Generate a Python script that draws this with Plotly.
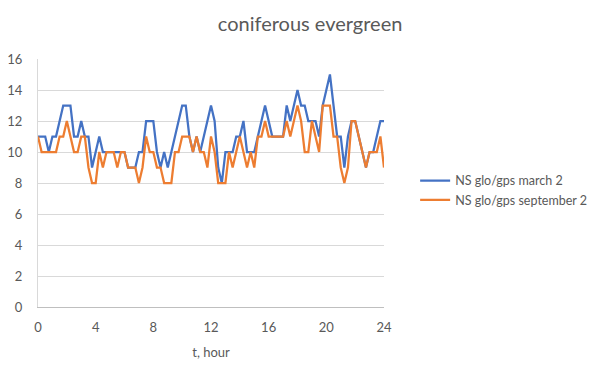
import plotly.graph_objects as go

hours = [i * 0.25 for i in range(97)]

march_2 = [
    11, 11, 11, 10, 11, 11, 12, 13, 13, 13, 11, 11, 12, 11, 11, 9,
    10, 11, 10, 10, 10, 10, 10, 10, 10, 9, 9, 9, 10, 10, 12, 12,
    12, 10, 9, 10, 9, 10, 11, 12, 13, 13, 11, 10, 11, 10, 11, 12,
    13, 12, 9, 8, 10, 10, 10, 11, 11, 12, 10, 10, 10, 11, 12, 13,
    12, 11, 11, 11, 11, 13, 12, 13, 14, 13, 13, 12, 12, 12, 11, 13,
    14, 15, 13, 11, 11, 9, 11, 12, 12, 11, 10, 9, 10, 10, 11, 12,
    12,
]

september_2 = [
    11, 10, 10, 10, 10, 10, 11, 11, 12, 11, 10, 10, 11, 11, 9, 8,
    8, 10, 9, 10, 10, 10, 9, 10, 10, 9, 9, 9, 8, 9, 11, 10,
    10, 9, 9, 8, 8, 8, 10, 10, 11, 11, 11, 10, 11, 10, 10, 9,
    11, 10, 8, 8, 8, 10, 9, 10, 11, 10, 9, 10, 9, 11, 11, 12,
    11, 11, 11, 11, 11, 12, 11, 12, 13, 12, 10, 10, 12, 11, 10, 13,
    13, 13, 11, 11, 9, 8, 9, 12, 12, 11, 10, 9, 10, 10, 10, 11,
    9,
]

x_ticks = [0, 4, 8, 12, 16, 20, 24]
y_ticks = [0, 2, 4, 6, 8, 10, 12, 14, 16]

fig = go.Figure()
fig.add_trace(go.Scatter(x=hours, y=march_2, mode="lines",
                         name="NS glo/gps march 2",
                         line=dict(color="#4472C4", width=2.25)))
fig.add_trace(go.Scatter(x=hours, y=september_2, mode="lines",
                         name="NS glo/gps september 2",
                         line=dict(color="#ED7D31", width=2.25)))

fig.update_layout(
    width=608, height=365,
    margin=dict(l=38, r=224, t=59, b=58),
    paper_bgcolor="white", plot_bgcolor="white",
    font=dict(family="Lato, Open Sans, sans-serif", color="#595959", size=13),
    title=dict(text="coniferous evergreen", x=0.51, xanchor="center",
               y=0.935, yanchor="middle",
               font=dict(size=20, color="#595959")),
    showlegend=True,
    legend=dict(x=1.09, xanchor="left", y=0.47, yanchor="middle",
                font=dict(size=12.5, color="#595959"),
                bgcolor="rgba(0,0,0,0)", tracegroupgap=0),
    xaxis=dict(range=[0, 24], tickvals=x_ticks, showgrid=False,
               showline=True, linecolor="#bfbfbf", linewidth=1,
               zeroline=False, ticks="", tickfont=dict(size=13),
               ticklabelstandoff=8, automargin=False,
               title=dict(text="t, hour", font=dict(size=13), standoff=14)),
    yaxis=dict(range=[0, 16], tickvals=y_ticks, showgrid=True,
               gridcolor="#d9d9d9", gridwidth=1,
               showline=True, linecolor="#d9d9d9", linewidth=1,
               zeroline=True, zerolinecolor="#bfbfbf", zerolinewidth=1,
               ticks="", tickfont=dict(size=13), ticklabelstandoff=12,
               automargin=False),
)

fig.write_html("out.html")
